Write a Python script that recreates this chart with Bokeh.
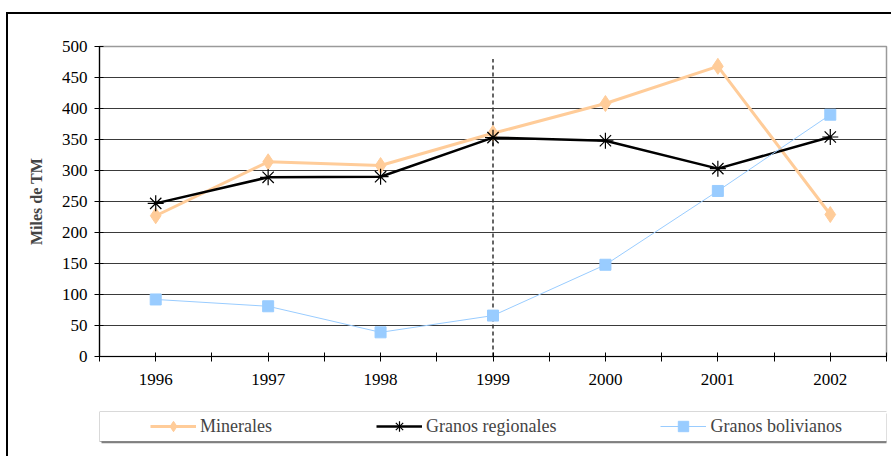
from bokeh.plotting import figure
from bokeh.layouts import column
from bokeh.models import FixedTicker, Legend, LegendItem, BoxAnnotation, Range1d
from bokeh.embed import file_html
from bokeh.resources import INLINE

# Annual cargo volumes, thousands of metric tons
years = [1996, 1997, 1998, 1999, 2000, 2001, 2002]
minerales = [227, 314, 308, 360, 408, 468, 229]
granos_regionales = [247, 289, 290, 353, 348, 303, 354]
granos_bolivianos = [92, 81, 39, 66, 148, 267, 390]
series_names = ["Minerales", "Granos regionales", "Granos bolivianos"]

y_ticks = list(range(0, 501, 50))
marker_year = 1999
marker_top = 480

FONT = "Liberation Serif"
ORANGE = "#FFCC99"
BLUE = "#99CCFF"

STYLES = [
    dict(line=dict(line_color=ORANGE, line_width=3),
         dot=dict(marker="diamond", size=16, fill_color=ORANGE, line_color=ORANGE)),
    dict(line=dict(line_color="black", line_width=2.5),
         dot=dict(marker="asterisk", size=16, line_color="black", line_width=1.2)),
    dict(line=dict(line_color=BLUE, line_width=1),
         dot=dict(marker="square", size=11, fill_color=BLUE, line_color=BLUE)),
]
SERIES = [minerales, granos_regionales, granos_bolivianos]

W = 883

# ---------------------------------------------------------------- main chart
p = figure(
    width=W, height=386,
    output_backend="svg", toolbar_location=None,
    x_range=Range1d(years[0] - 0.5, years[-1] + 0.5),
    y_range=Range1d(y_ticks[0], y_ticks[-1]),
    min_border_left=89, min_border_right=5,
    min_border_top=32, min_border_bottom=44,
)
p.background_fill_color = "white"
p.border_fill_color = "white"
p.outline_line_color = "#9a9a9a"
p.outline_line_width = 1.5

# grid: horizontal lines only
p.xgrid.visible = False
p.ygrid.ticker = FixedTicker(ticks=y_ticks[1:-1])
p.ygrid.grid_line_color = "#3a3a3a"
p.ygrid.grid_line_width = 1

for ax in (p.xaxis, p.yaxis):
    ax.axis_line_color = "black"
    ax.axis_line_width = 1.2
    ax.major_tick_line_color = "black"
    ax.major_tick_in = 4
    ax.major_tick_out = 5
    ax.major_label_text_font = FONT
    ax.major_label_text_font_size = "17px"
    ax.major_label_text_color = "black"

p.xaxis.ticker = FixedTicker(
    ticks=years,
    minor_ticks=[y - 0.5 for y in years] + [years[-1] + 0.5],
)
p.xaxis.minor_tick_line_color = "black"
p.xaxis.minor_tick_in = 4
p.xaxis.minor_tick_out = 5
p.xaxis.major_label_standoff = 12

p.yaxis.ticker = FixedTicker(ticks=y_ticks)
p.yaxis.minor_tick_line_color = None
p.yaxis.major_label_standoff = 7
p.yaxis.axis_label = "Miles de TM"
p.yaxis.axis_label_text_font = FONT
p.yaxis.axis_label_text_font_style = "bold"
p.yaxis.axis_label_text_font_size = "16px"
p.yaxis.axis_label_standoff = 14

# reference year marker
p.segment(x0=[marker_year], y0=[y_ticks[0]], x1=[marker_year], y1=[marker_top],
          line_color="#333333", line_width=1.5, line_dash="4 3")

# series
for vals, st in zip(SERIES, STYLES):
    p.line(years, vals, **st["line"])
    p.scatter(years, vals, **st["dot"])

# ---------------------------------------------------------------- legend strip
# The strip's ranges keep its copies of the series out of view; only the
# legend swatches built from them are seen.
lg = figure(
    width=W, height=56,
    output_backend="svg", toolbar_location=None,
    x_range=Range1d(0, 1), y_range=Range1d(0, 1),
    x_axis_type=None, y_axis_type=None,
    min_border_left=91, min_border_right=2,
    min_border_top=11, min_border_bottom=13,
)
lg.outline_line_color = None
lg.border_fill_color = "white"
lg.background_fill_color = "white"
box = dict(left_units="canvas", right_units="canvas",
           top_units="canvas", bottom_units="canvas", fill_alpha=1)
lg.add_layout(BoxAnnotation(left=93, right=881, top=13, bottom=43,
                            fill_color="#808080", line_alpha=0, **box))
lg.add_layout(BoxAnnotation(left=91, right=879, top=11, bottom=41,
                            fill_color="white", line_color="black", line_width=1, **box))

items = []
for name, vals, st in zip(series_names, SERIES, STYLES):
    r_line = lg.line(years, vals, **st["line"])
    r_dot = lg.scatter(years, vals, **st["dot"])
    items.append(LegendItem(label=name, renderers=[r_line, r_dot]))

legend = Legend(
    items=items,
    orientation="horizontal",
    location=(51, 4),
    padding=0, spacing=104, margin=0,
    glyph_width=46, glyph_height=26, label_height=26, label_standoff=4,
    label_text_font=FONT, label_text_font_size="18px",
    border_line_alpha=0, background_fill_alpha=0,
)
lg.add_layout(legend, "center")

page = column(
    p, lg, spacing=0, margin=(12, 0, 0, 6),
    styles={"border-left": "2px solid black", "border-top": "2px solid black"},
)

open("out.html", "w").write(file_html(page, INLINE))
